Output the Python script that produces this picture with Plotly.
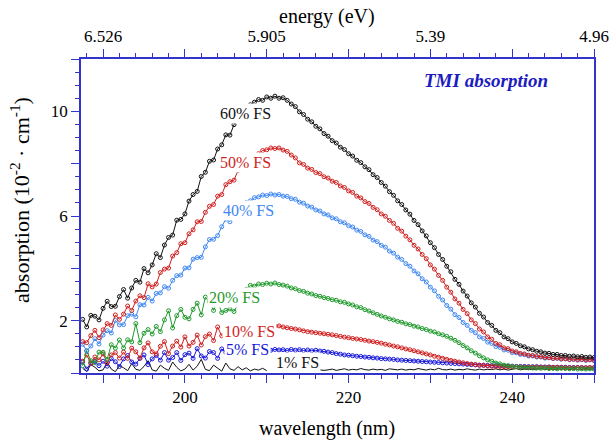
import numpy as np
import plotly.graph_objects as go

# Wavelength grid of the spectra (nm), 0.5 nm steps
wavelength = np.round(np.arange(187.5, 250.01, 0.5), 1)

# Absorption (10^-2 cm^-1) for each fused-silica fraction
abs_60 = [
    2.05, 1.76, 2.20, 2.17, 2.03, 2.47, 2.74, 2.54, 2.55, 2.92,
    3.19, 2.86, 3.25, 3.54, 3.47, 3.99, 3.83, 4.13, 4.56, 4.41,
    4.89, 5.18, 5.27, 5.84, 5.87, 6.08, 6.57, 6.82, 6.94, 7.51,
    7.67, 8.09, 8.14, 8.56, 8.72, 9.10, 9.09, 9.49, 9.75, 9.84,
    10.10, 10.25, 10.35, 10.45, 10.42, 10.55, 10.50, 10.58, 10.50, 10.52,
    10.42, 10.28, 10.18, 9.98, 9.88, 9.70, 9.60, 9.43, 9.33, 9.15,
    9.05, 8.88, 8.79, 8.63, 8.54, 8.38, 8.29, 8.13, 8.04, 7.88,
    7.77, 7.58, 7.47, 7.28, 7.14, 6.93, 6.79, 6.58, 6.44, 6.23,
    6.07, 5.83, 5.67, 5.43, 5.24, 4.98, 4.79, 4.53, 4.34, 4.08,
    3.87, 3.58, 3.39, 3.13, 2.94, 2.68, 2.52, 2.28, 2.14, 1.93,
    1.82, 1.63, 1.54, 1.38, 1.31, 1.19, 1.13, 1.04, 1.00, 0.92,
    0.89, 0.83, 0.81, 0.76, 0.75, 0.71, 0.71, 0.67, 0.67, 0.64,
    0.65, 0.62, 0.63, 0.60, 0.61, 0.59,
]
abs_50 = [
    1.20, 1.16, 1.43, 1.63, 1.35, 1.65, 1.89, 1.82, 2.22, 2.05,
    2.25, 2.56, 2.39, 2.75, 2.95, 2.88, 3.41, 3.29, 3.40, 3.84,
    3.97, 4.01, 4.47, 4.60, 4.94, 4.98, 5.32, 5.47, 5.78, 5.79,
    6.14, 6.37, 6.44, 6.76, 6.82, 7.20, 7.31, 7.37, 7.74, 8.00,
    8.05, 8.15, 8.30, 8.38, 8.50, 8.53, 8.60, 8.58, 8.60, 8.52,
    8.47, 8.33, 8.22, 8.03, 7.97, 7.83, 7.78, 7.66, 7.62, 7.50,
    7.45, 7.33, 7.28, 7.15, 7.09, 6.96, 6.90, 6.76, 6.69, 6.55,
    6.48, 6.33, 6.24, 6.08, 5.99, 5.83, 5.72, 5.53, 5.42, 5.23,
    5.09, 4.88, 4.74, 4.53, 4.37, 4.13, 3.97, 3.73, 3.54, 3.28,
    3.09, 2.83, 2.67, 2.43, 2.27, 2.03, 1.89, 1.68, 1.57, 1.38,
    1.29, 1.13, 1.08, 0.96, 0.93, 0.84, 0.81, 0.75, 0.73, 0.68,
    0.67, 0.63, 0.63, 0.59, 0.59, 0.56, 0.57, 0.54, 0.55, 0.52,
    0.53, 0.51, 0.52, 0.50, 0.51, 0.49,
]
abs_40 = [
    1.10, 0.85, 1.03, 1.31, 1.11, 1.45, 1.62, 1.53, 2.01, 1.84,
    1.85, 2.19, 2.25, 2.15, 2.61, 2.60, 2.89, 2.75, 3.04, 3.06,
    3.30, 3.24, 3.54, 3.72, 3.74, 4.01, 4.02, 4.35, 4.41, 4.42,
    4.82, 5.10, 5.11, 5.25, 5.59, 5.88, 5.78, 6.10, 6.33, 6.34,
    6.52, 6.58, 6.70, 6.73, 6.80, 6.78, 6.84, 6.80, 6.82, 6.76,
    6.75, 6.66, 6.64, 6.53, 6.49, 6.38, 6.34, 6.23, 6.19, 6.08,
    6.04, 5.93, 5.89, 5.78, 5.74, 5.63, 5.58, 5.46, 5.41, 5.28,
    5.22, 5.08, 5.02, 4.88, 4.81, 4.66, 4.58, 4.43, 4.34, 4.18,
    4.08, 3.90, 3.79, 3.60, 3.48, 3.28, 3.14, 2.93, 2.79, 2.58,
    2.44, 2.23, 2.12, 1.93, 1.82, 1.63, 1.54, 1.38, 1.32, 1.18,
    1.13, 1.01, 0.98, 0.88, 0.87, 0.78, 0.77, 0.71, 0.70, 0.65,
    0.65, 0.61, 0.61, 0.57, 0.58, 0.55, 0.56, 0.53, 0.54, 0.51,
    0.52, 0.49, 0.51, 0.48, 0.50, 0.47,
]
abs_20 = [
    0.28, 0.84, 0.47, 0.39, 0.80, 0.79, 0.52, 1.08, 0.95, 1.26,
    0.96, 1.27, 1.19, 1.89, 1.16, 1.52, 1.66, 1.49, 1.78, 1.58,
    2.03, 2.38, 1.72, 2.19, 2.43, 2.13, 2.07, 2.43, 2.67, 2.22,
    2.90, 2.72, 2.39, 2.76, 2.31, 2.39, 2.45, 2.35, 2.62, 2.90,
    3.20, 3.35, 3.32, 3.40, 3.38, 3.43, 3.40, 3.44, 3.38, 3.36,
    3.32, 3.25, 3.22, 3.15, 3.12, 3.05, 3.02, 2.96, 2.93, 2.88,
    2.85, 2.80, 2.78, 2.72, 2.70, 2.64, 2.60, 2.53, 2.50, 2.42,
    2.37, 2.30, 2.24, 2.18, 2.13, 2.07, 2.03, 1.97, 1.94, 1.88,
    1.85, 1.79, 1.76, 1.70, 1.66, 1.60, 1.57, 1.50, 1.46, 1.40,
    1.33, 1.25, 1.16, 1.05, 0.96, 0.85, 0.76, 0.66, 0.58, 0.50,
    0.45, 0.38, 0.35, 0.30, 0.28, 0.25, 0.24, 0.22, 0.21, 0.20,
    0.19, 0.20, 0.18, 0.19, 0.17, 0.18, 0.16, 0.18, 0.17, 0.16,
    0.17, 0.15, 0.16, 0.15, 0.16, 0.15,
]
abs_10 = [
    0.45, 0.69, 0.37, 0.61, 0.50, 0.73, 0.39, 0.69, 0.78, 0.57,
    0.80, 0.56, 0.95, 0.81, 0.57, 0.96, 1.15, 0.81, 0.73, 1.02,
    1.20, 0.74, 1.03, 1.22, 0.99, 1.38, 1.03, 1.17, 1.45, 1.07,
    1.39, 1.49, 1.24, 1.76, 1.42, 1.35, 1.70, 1.66, 1.39, 1.86,
    1.70, 1.75, 1.80, 1.78, 1.82, 1.80, 1.85, 1.80, 1.80, 1.76,
    1.73, 1.70, 1.68, 1.65, 1.61, 1.58, 1.56, 1.54, 1.52, 1.50,
    1.48, 1.46, 1.43, 1.40, 1.37, 1.35, 1.32, 1.30, 1.28, 1.25,
    1.22, 1.20, 1.17, 1.14, 1.10, 1.07, 1.03, 1.00, 0.96, 0.92,
    0.89, 0.85, 0.81, 0.77, 0.73, 0.69, 0.64, 0.60, 0.56, 0.52,
    0.48, 0.45, 0.42, 0.39, 0.36, 0.34, 0.32, 0.30, 0.29, 0.27,
    0.26, 0.25, 0.25, 0.24, 0.24, 0.23, 0.24, 0.23, 0.22, 0.23,
    0.22, 0.23, 0.22, 0.21, 0.22, 0.21, 0.22, 0.21, 0.20, 0.21,
    0.20, 0.21, 0.20, 0.20, 0.21, 0.20,
]
abs_5 = [
    0.42, 0.15, 0.38, 0.44, 0.28, 0.45, 0.26, 0.55, 0.43, 0.25,
    0.54, 0.67, 0.42, 0.34, 0.56, 0.69, 0.32, 0.54, 0.67, 0.49,
    0.78, 0.49, 0.59, 0.78, 0.48, 0.70, 0.76, 0.56, 0.93, 0.65,
    0.57, 0.82, 0.78, 0.56, 0.92, 0.79, 0.97, 0.72, 0.90, 0.81,
    0.86, 0.88, 0.87, 0.90, 0.88, 0.89, 0.87, 0.90, 0.88, 0.89,
    0.86, 0.90, 0.87, 0.89, 0.86, 0.88, 0.85, 0.87, 0.84, 0.83,
    0.80, 0.78, 0.74, 0.72, 0.69, 0.68, 0.66, 0.64, 0.63, 0.61,
    0.60, 0.58, 0.57, 0.55, 0.54, 0.53, 0.52, 0.50, 0.49, 0.48,
    0.47, 0.46, 0.45, 0.44, 0.43, 0.42, 0.41, 0.40, 0.39, 0.38,
    0.37, 0.36, 0.35, 0.34, 0.33, 0.32, 0.31, 0.30, 0.30, 0.29,
    0.28, 0.28, 0.27, 0.27, 0.26, 0.26, 0.25, 0.25, 0.25, 0.24,
    0.24, 0.24, 0.23, 0.23, 0.23, 0.22, 0.22, 0.22, 0.22, 0.21,
    0.21, 0.21, 0.21, 0.20, 0.20, 0.20,
]
# no data recorded beneath the "1% FS" label (210.5-216 nm)
abs_1 = [
    0.18, 0.06, 0.32, 0.22, 0.08, 0.12, 0.41, 0.15, 0.05, 0.28,
    0.20, 0.09, 0.36, 0.14, 0.10, 0.25, 0.47, 0.12, 0.07, 0.30,
    0.18, 0.10, 0.42, 0.22, 0.08, 0.15, 0.33, 0.11, 0.26, 0.52,
    0.14, 0.09, 0.30, 0.19, 0.07, 0.38, 0.16, 0.10, 0.24, 0.12,
    0.20, 0.08, 0.15, 0.11, 0.18, 0.09, None, None, None, None,
    None, None, None, None, None, None, None, None, 0.12, 0.10,
    0.12, 0.15, 0.10, 0.13, 0.16, 0.11, 0.14, 0.12, 0.17, 0.13,
    0.11, 0.15, 0.12, 0.14, 0.10, 0.16, 0.13, 0.12, 0.15, 0.11,
    0.14, 0.12, 0.17, 0.13, 0.11, 0.15, 0.12, 0.18, 0.13, 0.12,
    0.15, 0.11, 0.14, 0.12, 0.16, 0.13, 0.11, 0.15, 0.12, 0.14,
    0.13, 0.16, 0.12, 0.15, 0.11, 0.14, 0.17, 0.12, 0.15, 0.13,
    0.14, 0.12, 0.18, 0.13, 0.15, 0.12, 0.16, 0.14, 0.20, 0.13,
    0.15, 0.22, 0.14, 0.18, 0.15, 0.20,
]

# Tick labels
wl_tickvals = [190, 200, 210, 220, 230, 240, 250]
wl_ticktext = ["", "200", "", "220", "", "240", ""]
ev_ticktext = ["6.526", "", "5.905", "", "5.39", "", "4.96"]
y_tickvals = [0, 2, 4, 6, 8, 10, 12]
y_ticktext = ["", "2", "", "6", "", "10", ""]

RED = "#d01e1e"
LIGHTBLUE = "#3f87f2"
GREEN = "#1f9a2c"
BLUE = "#1717dc"
BLACK = "#111111"
AXIS = "#3434cc"
SERIF = "Liberation Serif"

# name, values, colour, label anchor (nm, absorption), draw markers
series = [
    ("1% FS", abs_1, BLACK, (213.7, 0.42), False),
    ("5% FS", abs_5, BLUE, (207.65, 0.88), True),
    ("10% FS", abs_10, RED, (207.9, 1.6), True),
    ("20% FS", abs_20, GREEN, (206.0, 2.9), True),
    ("40% FS", abs_40, LIGHTBLUE, (207.8, 6.21), True),
    ("50% FS", abs_50, RED, (207.4, 8.04), True),
    ("60% FS", abs_60, BLACK, (207.4, 9.9), True),
]

fig = go.Figure()
for name, vals, color, _, with_markers in series:
    fig.add_trace(go.Scatter(
        x=wavelength, y=vals, name=name,
        mode="lines+markers" if with_markers else "lines",
        line=dict(color=color, width=1),
        marker=dict(symbol="circle-open", size=4, color=color,
                    line=dict(width=1, color=color)),
        connectgaps=False, showlegend=False, hoverinfo="skip",
    ))

# invisible trace so the energy axis on top is rendered
fig.add_trace(go.Scatter(x=[wavelength[0]], y=[0], xaxis="x2", mode="markers",
                         marker=dict(opacity=0), showlegend=False, hoverinfo="skip"))

annotations = []
for name, _, color, (ax, ay), _ in series:
    annotations.append(dict(
        x=ax, y=ay, xref="x", yref="y", text=name, showarrow=False,
        font=dict(family=SERIF, size=16, color=color),
        bgcolor="white", borderpad=1,
    ))
annotations.append(dict(
    x=0.79, y=0.933, xref="paper", yref="paper", xanchor="center", yanchor="middle",
    text="<b><i>TMI absorption</i></b>", showarrow=False,
    font=dict(family=SERIF, size=19, color="#1c1cc0"),
))

# axis titles
title_font = dict(family=SERIF, size=20, color="black")
annotations.append(dict(
    x=-0.119, y=0.551, xref="paper", yref="paper", xanchor="center", yanchor="middle",
    text="absorption (10<sup>-2</sup> · cm<sup>-1</sup>)", textangle=-90,
    showarrow=False, font=dict(family=SERIF, size=22, color="black"),
))
annotations.append(dict(
    x=0.48, y=-0.177, xref="paper", yref="paper", xanchor="center", yanchor="middle",
    text="wavelength (nm)", showarrow=False, font=title_font,
))
annotations.append(dict(
    x=0.48, y=1.134, xref="paper", yref="paper", xanchor="center", yanchor="middle",
    text="energy (eV)", showarrow=False, font=title_font,
))

common_x = dict(
    range=[187.3, 250], tickmode="array", tickvals=wl_tickvals,
    ticks="outside", ticklen=8, tickwidth=1, tickcolor=AXIS,
    showline=True, linecolor=AXIS, linewidth=1.5,
    showgrid=False, zeroline=False, automargin=False,
    tickfont=dict(family=SERIF, size=17, color="black"),
    minor=dict(tickmode="linear", tick0=190, dtick=2, ticks="outside",
               ticklen=4, tickcolor=AXIS, showgrid=False),
)

fig.update_layout(
    width=612, height=444,
    margin=dict(l=81, r=18, t=59, b=71, autoexpand=False),
    paper_bgcolor="white", plot_bgcolor="white",
    font=dict(family=SERIF, color="black"),
    xaxis=dict(common_x, ticktext=wl_ticktext),
    xaxis2=dict(common_x, ticktext=ev_ticktext, overlaying="x", side="top"),
    yaxis=dict(
        range=[0, 12], tickmode="array", tickvals=y_tickvals, ticktext=y_ticktext,
        ticks="outside", ticklen=8, tickwidth=1, tickcolor=AXIS,
        showline=True, linecolor=AXIS, linewidth=1.5, mirror=True,
        showgrid=False, zeroline=False, automargin=False,
        tickfont=dict(family=SERIF, size=17, color="black"),
        minor=dict(tickmode="linear", tick0=0, dtick=0.5, ticks="outside",
                   ticklen=4, tickcolor=AXIS, showgrid=False),
    ),
    annotations=annotations,
)

fig.write_html("out.html")
